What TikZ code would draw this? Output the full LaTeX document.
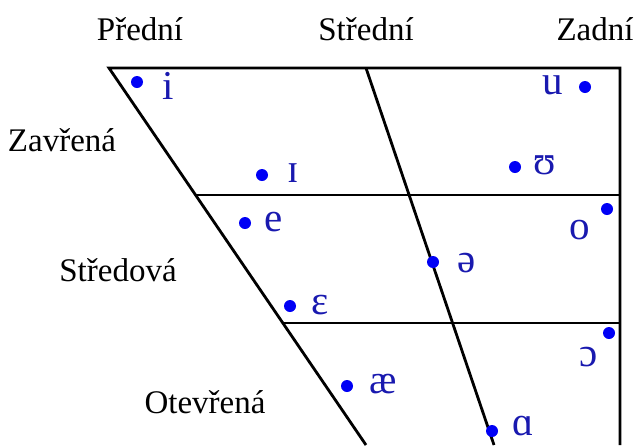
\documentclass[tikz,border=0pt]{standalone}
\usepackage{fontspec}
\setmainfont{Liberation Serif}
\definecolor{dotblue}{RGB}{0,0,245}
\definecolor{ipablue}{RGB}{25,25,175}
\usepackage{tikz}
\usetikzlibrary{positioning}

\begin{document}
\begin{tikzpicture}[
  x=1pt, y=-1pt,
  chart/.style={draw=black, line width=2.8pt},
  vdot/.style={circle, fill=dotblue, inner sep=0pt, minimum size=12pt},
  ipa/.style={text=ipablue, anchor=base, inner sep=0pt, font=\fontsize{41}{44}\selectfont},
  lbl/.style={anchor=base, inner sep=0pt, font=\fontsize{33}{38}\selectfont}
]
\useasboundingbox (0,0) rectangle (635,445);

% Chart outline
\coordinate (tl) at (109,68);
\coordinate (tm) at (366,68);
\coordinate (tr) at (620,68);
\coordinate (br) at (620,445);
\coordinate (bl) at (366,445);
\coordinate (bm) at (494,445);
\coordinate (ml1) at (197,195);
\coordinate (mr1) at (620,195);
\coordinate (ml2) at (283,323);
\coordinate (mr2) at (620,323);

\draw[chart] (bl) -- (tl) -- (tr) -- (br);
\draw[chart] (tm) -- (bm);
\draw[chart] (ml1) -- (mr1);
\draw[chart] (ml2) -- (mr2);

% Column and row labels
\node[lbl] (front) at (140,40) {Přední};
\node[lbl] (central) at (366,40) {Střední};
\node[lbl] (back) at (595,40) {Zadní};
\node[lbl] (close) at (62,151) {Zavřená};
\node[lbl] (mid) at (118,281) {Středová};
\node[lbl] (open) at (205,413) {Otevřená};

% Vowels
\foreach \n/\dx/\dy/\v/\lx/\ly in {
  i/137/82/i/168/99,
  u/585/87/u/553/94,
  I/262/175/ɪ/293/182,
  U/515/167/ʊ/545/174,
  e/245/223/e/274/231,
  o/607/209/o/580/239,
  schwa/433/262/ə/467/272,
  E/290/306/ɛ/320/314,
  O/609/333/ɔ/589/366,
  ae/347/386/æ/383/393,
  A/492/431/ɑ/523/435
}{
  \node[vdot] (d\n) at (\dx,\dy) {};
  \node[ipa] (v\n) at (\lx,\ly) {\v};
}

\end{tikzpicture}
\end{document}
